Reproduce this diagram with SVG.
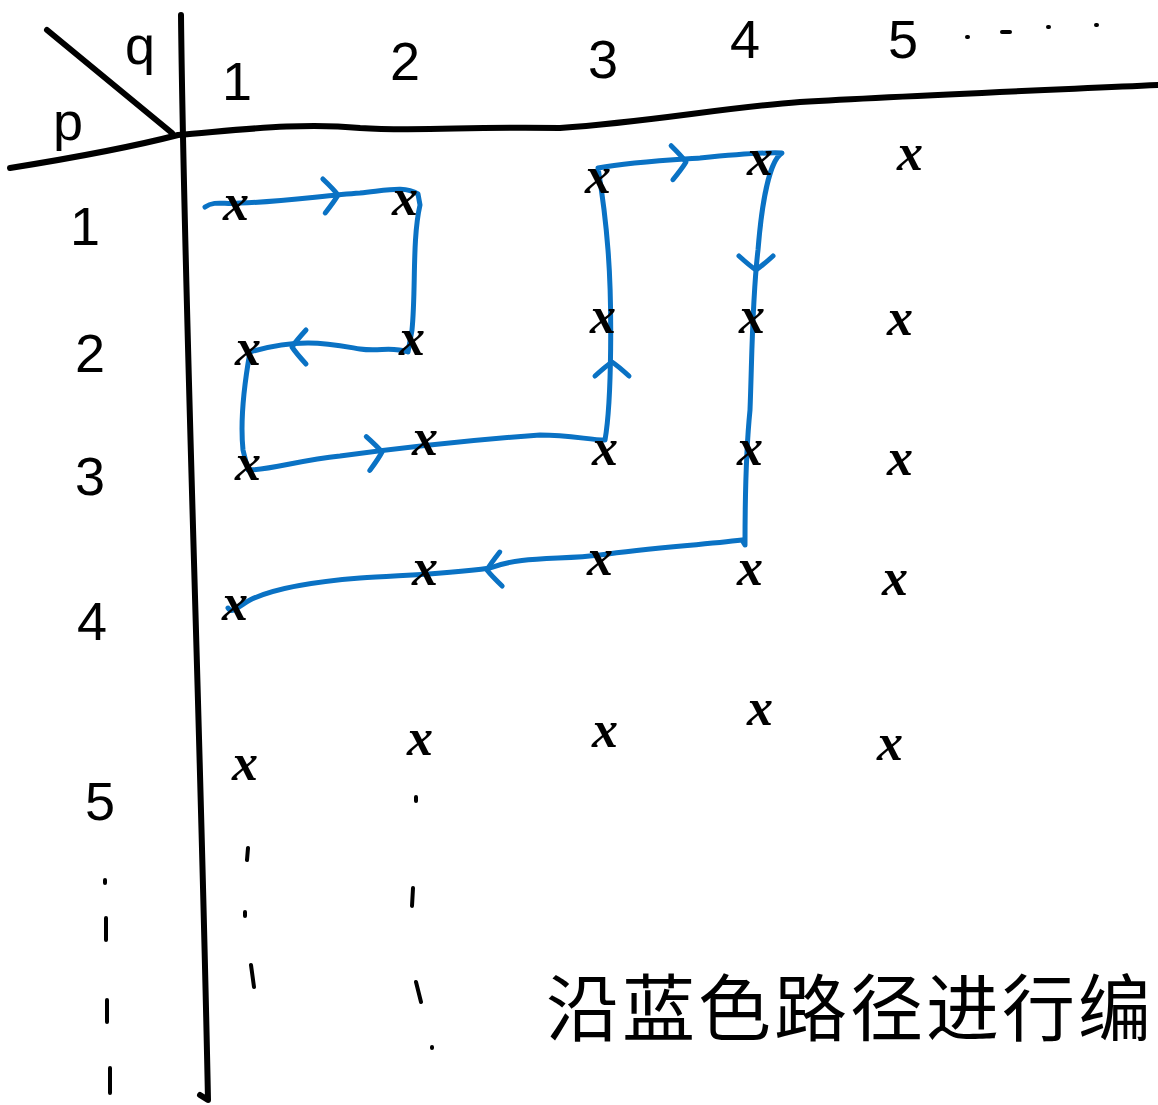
<svg xmlns="http://www.w3.org/2000/svg" width="1158" height="1105" viewBox="0 0 1158 1105">
<style>
.ink{fill:none;stroke:#000;stroke-width:6;stroke-linecap:round;stroke-linejoin:round}
.blue{fill:none;stroke:#0A72C4;stroke-width:5;stroke-linecap:round;stroke-linejoin:round}
.num{font-family:"Liberation Sans","DejaVu Sans",sans-serif;font-size:54px;fill:#000;text-anchor:middle}
.mk{font-family:"Liberation Serif","DejaVu Serif",serif;font-style:italic;font-weight:bold;font-size:52px;fill:#000;text-anchor:middle}
.dot{fill:none;stroke:#000;stroke-width:4;stroke-linecap:round}
.zh{font-family:"Noto Sans CJK SC","Noto Sans CJK TC",sans-serif;font-size:73px;fill:#000}
</style>
<defs>
<path id="chev" d="M-14,-17 Q-4,-6 0,0 Q-4,6 -14,17" class="blue"/>
</defs>
<rect width="1158" height="1105" fill="#fff"/>
<g id="frame">
<path class="ink" d="M10,168 C60,160 120,150 178,135 C240,130 300,122 360,128 C420,132 470,126 560,128 C650,122 720,108 800,102 C900,96 1000,92 1158,85"/>
<path class="ink" d="M181,15 C184,300 200,700 208,1100 L200,1095"/>
<path class="ink" d="M47,30 L172,133"/>
</g>
<g id="header-q"><text class="num" x="140" y="64">q</text></g>
<g id="header-p"><text class="num" x="68" y="140">p</text></g>
<g id="col-labels">
<text class="num" x="237" y="100">1</text>
<text class="num" x="405" y="80">2</text>
<text class="num" x="603" y="78">3</text>
<text class="num" x="745" y="58">4</text>
<text class="num" x="903" y="58">5</text>
<path class="dot" d="M967,37 h1 M1002,32 h8 M1048,27 h1 M1096,25 h1"/>
</g>
<g id="row-labels">
<text class="num" x="85" y="245">1</text>
<text class="num" x="90" y="372">2</text>
<text class="num" x="90" y="495">3</text>
<text class="num" x="92" y="640">4</text>
<text class="num" x="100" y="820">5</text>
<path class="dot" d="M105,880 v3 M106,918 v22 M107,1000 v22 M110,1068 v25"/>
</g>
<g id="col-dots">
<path class="dot" d="M248,848 l-1,12 M245,912 v4 M251,965 l3,22 M416,797 v4 M413,888 l-1,18 M416,982 l5,20 M432,1047 v1"/>
</g>
<g id="connectors">
<path class="blue" d="M205,207 C215,200 225,205 240,203 C280,202 320,196 360,193 C390,190 405,186 418,194 L420,205 C412,240 416,290 412,330 L408,352 C390,346 380,352 360,349 C330,344 300,337 250,352 C245,380 240,420 243,450 L248,470 C270,470 300,460 340,456 C400,448 470,440 540,435 C570,435 590,440 605,440 C612,400 612,300 608,250 C605,210 600,180 598,168 C630,162 670,160 700,158 C730,155 760,152 782,153 C770,160 762,200 758,250 C752,300 752,360 750,410 C745,460 745,520 745,545 L742,540 C700,545 650,548 600,555 C560,560 520,556 490,568 C440,575 400,575 360,578 C310,582 270,590 250,600 C240,605 232,615 228,608"/>
<use href="#chev" transform="translate(338,195) rotate(-4)"/>
<use href="#chev" transform="translate(292,347) rotate(180)"/>
<use href="#chev" transform="translate(382,452) rotate(-6)"/>
<use href="#chev" transform="translate(612,362) rotate(-90)"/>
<use href="#chev" transform="translate(686,162) rotate(-3)"/>
<use href="#chev" transform="translate(756,270) rotate(90)"/>
<use href="#chev" transform="translate(487,570) rotate(176)"/>
</g>
<g id="marks">
<text class="mk" x="236" y="220">x</text>
<text class="mk" x="405" y="215">x</text>
<text class="mk" x="598" y="193">x</text>
<text class="mk" x="760" y="175">x</text>
<text class="mk" x="910" y="170">x</text>
<text class="mk" x="248" y="365">x</text>
<text class="mk" x="412" y="355">x</text>
<text class="mk" x="603" y="333">x</text>
<text class="mk" x="752" y="333">x</text>
<text class="mk" x="900" y="335">x</text>
<text class="mk" x="248" y="480">x</text>
<text class="mk" x="425" y="455">x</text>
<text class="mk" x="605" y="465">x</text>
<text class="mk" x="750" y="465">x</text>
<text class="mk" x="900" y="475">x</text>
<text class="mk" x="235" y="620">x</text>
<text class="mk" x="425" y="585">x</text>
<text class="mk" x="600" y="575">x</text>
<text class="mk" x="750" y="585">x</text>
<text class="mk" x="895" y="595">x</text>
<text class="mk" x="245" y="780">x</text>
<text class="mk" x="420" y="755">x</text>
<text class="mk" x="605" y="747">x</text>
<text class="mk" x="760" y="725">x</text>
<text class="mk" x="890" y="760">x</text>
</g>
<g id="caption">
<text class="zh" x="546" y="1035" letter-spacing="3">沿蓝色路径进行编</text>
</g>
</svg>
